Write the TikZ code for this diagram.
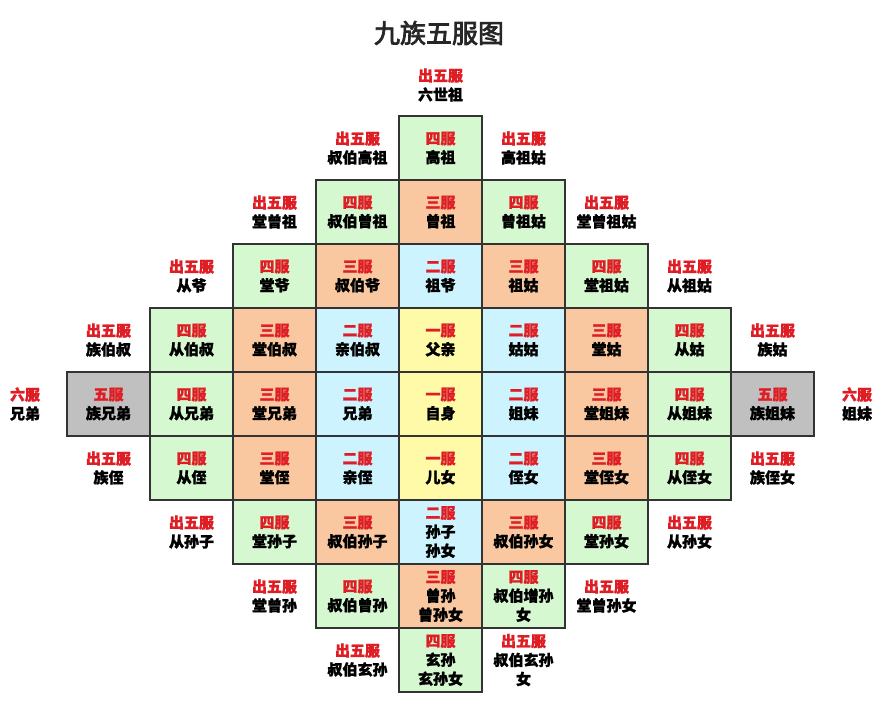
\documentclass[tikz,border=0pt]{standalone}
\usepackage{fontspec}
\setmainfont{Noto Sans CJK SC}[BoldFeatures={FakeBold=1.5}]
\newfontfamily\titlefont{Noto Sans CJK SC}[FakeBold=3]
\definecolor{fured}{RGB}{222,30,36}
\definecolor{fuyellow}{RGB}{255,250,168}
\definecolor{fublue}{RGB}{205,244,254}
\definecolor{fuorange}{RGB}{250,200,160}
\definecolor{fugreen}{RGB}{214,248,208}
\definecolor{fugray}{RGB}{192,192,192}
\newcommand{\furank}[1]{\textcolor{fured}{#1}}
\newcommand{\rankname}[1]{\ifcase#1 出五服\or 一服\or 二服\or 三服\or 四服\or 五服\or 六服\fi}
\tikzset{
  cell/.style={draw=black!80, line width=1.2pt, minimum width=83pt, minimum height=64pt,
    inner sep=0pt, align=center, font=\bfseries\fontsize{15}{19}\selectfont},
  fu1/.style={cell, fill=fuyellow},
  fu2/.style={cell, fill=fublue},
  fu3/.style={cell, fill=fuorange},
  fu4/.style={cell, fill=fugreen},
  fu5/.style={cell, fill=fugray},
  outlbl/.style={align=center, inner sep=0pt, font=\bfseries\fontsize{15}{19}\selectfont},
}
\begin{document}
\begin{tikzpicture}[x=1pt, y=-1pt]
  \useasboundingbox (0,0) rectangle (891,706);
  \node[text=black!85, font=\titlefont\fontsize{26}{30}\selectfont] (title) at (439, 33) {九族五服图};

  % ancestors
  \node[outlbl] (top) at (440.5, 85) {\furank{出五服}\\六世祖};
  \foreach \c/\s/\t in {4/4/高祖} {
    \node[fu\s] (r0c\c) at ({108.5+83*\c}, 148) {\furank{\rankname{\s}}\\\t};
  }
  \foreach \c/\t in {3/叔伯高祖, 5/高祖姑} {
    \node[outlbl] (o0c\c) at ({108.5+83*\c}, 148) {\furank{出五服}\\\t};
  }

  \foreach \c/\s/\t in {3/4/叔伯曾祖, 4/3/曾祖, 5/4/曾祖姑} {
    \node[fu\s] (r1c\c) at ({108.5+83*\c}, 212) {\furank{\rankname{\s}}\\\t};
  }
  \foreach \c/\t in {2/堂曾祖, 6/堂曾祖姑} {
    \node[outlbl] (o1c\c) at ({108.5+83*\c}, 212) {\furank{出五服}\\\t};
  }

  \foreach \c/\s/\t in {2/4/堂爷, 3/3/叔伯爷, 4/2/祖爷, 5/3/祖姑, 6/4/堂祖姑} {
    \node[fu\s] (r2c\c) at ({108.5+83*\c}, 276) {\furank{\rankname{\s}}\\\t};
  }
  \foreach \c/\t in {1/从爷, 7/从祖姑} {
    \node[outlbl] (o2c\c) at ({108.5+83*\c}, 276) {\furank{出五服}\\\t};
  }

  \foreach \c/\s/\t in {1/4/从伯叔, 2/3/堂伯叔, 3/2/亲伯叔, 4/1/父亲, 5/2/姑姑, 6/3/堂姑, 7/4/从姑} {
    \node[fu\s] (r3c\c) at ({108.5+83*\c}, 340) {\furank{\rankname{\s}}\\\t};
  }
  \foreach \c/\t in {0/族伯叔, 8/族姑} {
    \node[outlbl] (o3c\c) at ({108.5+83*\c}, 340) {\furank{出五服}\\\t};
  }

  % own generation
  \foreach \c/\s/\t in {0/5/族兄弟, 1/4/从兄弟, 2/3/堂兄弟, 3/2/兄弟, 4/1/自身,
                        5/2/姐妹, 6/3/堂姐妹, 7/4/从姐妹, 8/5/族姐妹} {
    \node[fu\s] (r4c\c) at ({108.5+83*\c}, 404) {\furank{\rankname{\s}}\\\t};
  }
  \node[outlbl] (left) at (25, 404) {\furank{六服}\\兄弟};
  \node[outlbl] (right) at (857, 404) {\furank{六服}\\姐妹};

  % descendants
  \foreach \c/\s/\t in {1/4/从侄, 2/3/堂侄, 3/2/亲侄, 4/1/儿女, 5/2/侄女, 6/3/堂侄女, 7/4/从侄女} {
    \node[fu\s] (r5c\c) at ({108.5+83*\c}, 468) {\furank{\rankname{\s}}\\\t};
  }
  \foreach \c/\t in {0/族侄, 8/族侄女} {
    \node[outlbl] (o5c\c) at ({108.5+83*\c}, 468) {\furank{出五服}\\\t};
  }

  \foreach \c/\s/\t in {2/4/{堂孙子}, 3/3/{叔伯孙子}, 4/2/{孙子\\孙女}, 5/3/{叔伯孙女}, 6/4/{堂孙女}} {
    \node[fu\s] (r6c\c) at ({108.5+83*\c}, 532) {\furank{\rankname{\s}}\\\t};
  }
  \foreach \c/\t in {1/从孙子, 7/从孙女} {
    \node[outlbl] (o6c\c) at ({108.5+83*\c}, 532) {\furank{出五服}\\\t};
  }

  \foreach \c/\s/\t in {3/4/{叔伯曾孙}, 4/3/{曾孙\\曾孙女}, 5/4/{叔伯增孙\\女}} {
    \node[fu\s] (r7c\c) at ({108.5+83*\c}, 596) {\furank{\rankname{\s}}\\\t};
  }
  \foreach \c/\t in {2/堂曾孙, 6/堂曾孙女} {
    \node[outlbl] (o7c\c) at ({108.5+83*\c}, 596) {\furank{出五服}\\\t};
  }

  \foreach \c/\s/\t in {4/4/{玄孙\\玄孙女}} {
    \node[fu\s] (r8c\c) at ({108.5+83*\c}, 660) {\furank{\rankname{\s}}\\\t};
  }
  \foreach \c/\t in {3/{叔伯玄孙}, 5/{叔伯玄孙\\女}} {
    \node[outlbl] (o8c\c) at ({108.5+83*\c}, 660) {\furank{出五服}\\\t};
  }
\end{tikzpicture}
\end{document}
